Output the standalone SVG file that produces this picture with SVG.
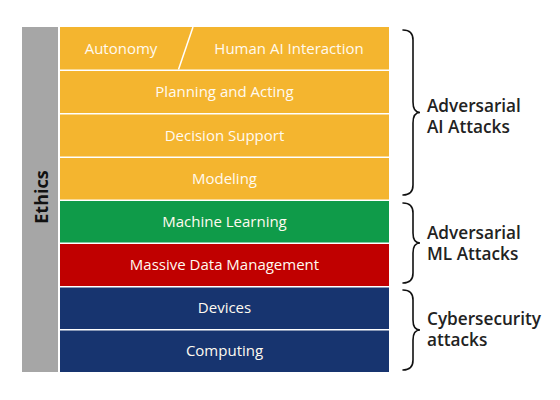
<svg xmlns="http://www.w3.org/2000/svg" width="560" height="400" viewBox="0 0 560 400">
<style>
.t{font-family:"Open Sans","Noto Sans","Liberation Sans",sans-serif;font-size:15px;fill:#fffaf0;text-anchor:middle;dominant-baseline:central}
.lab{font-family:"Open Sans","Noto Sans","Liberation Sans",sans-serif;font-size:17.2px;font-weight:600;fill:#222}
.y{fill:#f4b52f}.g{fill:#0f9b49}.r{fill:#c00000}.b{fill:#17346f}
.br{fill:none;stroke:#111;stroke-width:1.6;stroke-linecap:round}
</style>
<rect width="560" height="400" fill="#fff"/>
<g id="ethics">
<rect x="22" y="27" width="36" height="345" fill="#a6a6a6"/>
<text x="41" y="197" transform="rotate(-90 41 197)" font-family="'Open Sans','Noto Sans','Liberation Sans',sans-serif" font-size="18" font-weight="700" fill="#111" text-anchor="middle" dominant-baseline="central">Ethics</text>
</g>
<g id="row-top">
<rect class="y" x="60" y="27" width="329" height="42.5"/>
<line x1="193" y1="27" x2="178.5" y2="69.5" stroke="#fff" stroke-width="1.5"/>
<text class="t" x="121" y="47.5">Autonomy</text>
<text class="t" x="289" y="47.5">Human AI Interaction</text>
</g>
<g id="planning"><rect class="y" x="60" y="71" width="329" height="42"/><text class="t" x="224.5" y="91">Planning and Acting</text></g>
<g id="decision"><rect class="y" x="60" y="114.5" width="329" height="42"/><text class="t" x="224.5" y="134.5">Decision Support</text></g>
<g id="modeling"><rect class="y" x="60" y="158" width="329" height="41.5"/><text class="t" x="224.5" y="177.5">Modeling</text></g>
<g id="ml"><rect class="g" x="60" y="201" width="329" height="41.5"/><text class="t" x="224.5" y="220.5">Machine Learning</text></g>
<g id="data"><rect class="r" x="60" y="244" width="329" height="42"/><text class="t" x="224.5" y="264">Massive Data Management</text></g>
<g id="devices"><rect class="b" x="60" y="287.5" width="329" height="41.5"/><text class="t" x="224.5" y="307">Devices</text></g>
<g id="computing"><rect class="b" x="60" y="330.5" width="329" height="41.5"/><text class="t" x="224.5" y="350">Computing</text></g>
<g id="connectors">
<path class="br" d="M403,30 Q413,30 413,40 L413,102 Q413,112.5 420,112.5 Q413,112.5 413,123 L413,185 Q413,195 403,195"/>
<path class="br" d="M403,203 Q413,203 413,213 L413,233 Q413,243 420,243 Q413,243 413,253 L413,273 Q413,283 403,283"/>
<path class="br" d="M403,290 Q413,290 413,300 L413,320 Q413,330 420,330 Q413,330 413,340 L413,360 Q413,370 403,370"/>
</g>
<g id="label-ai"><text class="lab" x="427" y="112">Adversarial</text><text class="lab" x="427" y="133">AI Attacks</text></g>
<g id="label-ml"><text class="lab" x="427" y="239">Adversarial</text><text class="lab" x="427" y="260">ML Attacks</text></g>
<g id="label-cyber"><text class="lab" x="427" y="325">Cybersecurity</text><text class="lab" x="427" y="346">attacks</text></g>
</svg>
